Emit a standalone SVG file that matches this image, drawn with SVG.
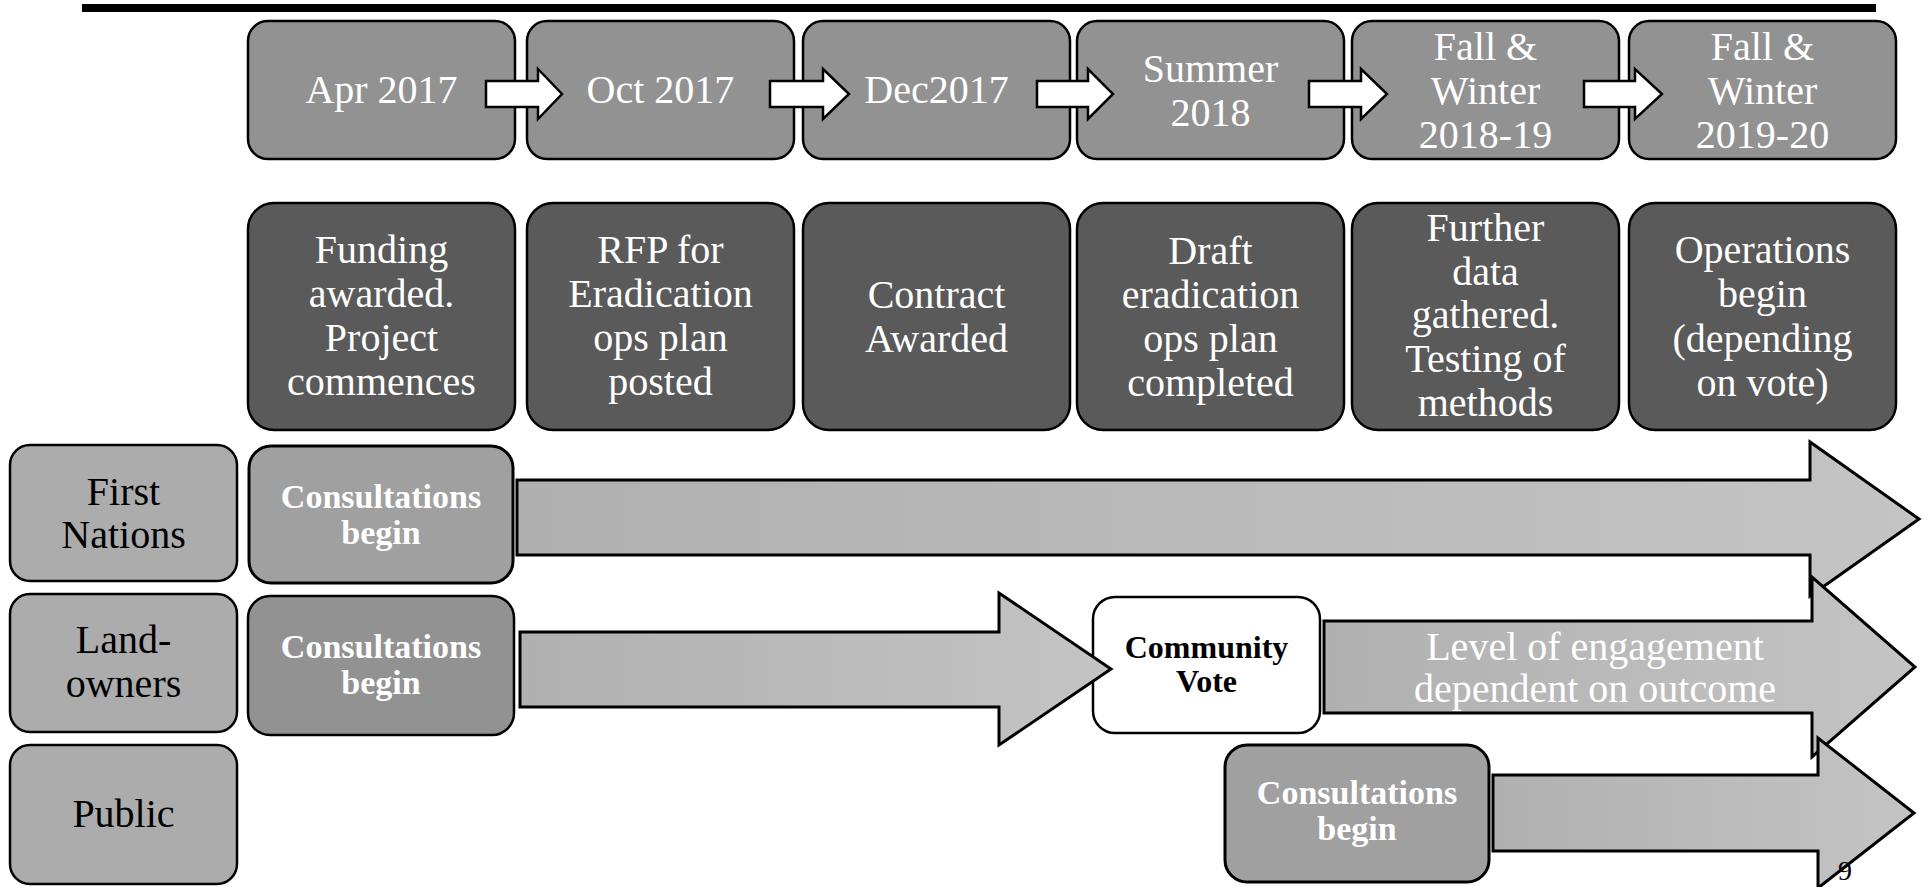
<svg xmlns="http://www.w3.org/2000/svg" width="1930" height="887" viewBox="0 0 1930 887">
<style>
.t1{fill:#929292;stroke:#000;stroke-width:2.5}
.t2{fill:#5a5a5a;stroke:#000;stroke-width:2.5}
.lab{fill:#acacac;stroke:#000;stroke-width:2.5}
.conA{fill:#a0a0a0;stroke:#000;stroke-width:3}
.conB{fill:#929292;stroke:#000;stroke-width:2.5}
.vote{fill:#fff;stroke:#000;stroke-width:2.5}
.wa{fill:#fff;stroke:#000;stroke-width:2.5}
.ba{fill:url(#ag);stroke:#000;stroke-width:3}
.w{font-family:"Liberation Serif","Times New Roman",serif;font-size:40px;fill:#fff;text-anchor:middle}
.k{font-family:"Liberation Serif","Times New Roman",serif;font-size:40px;fill:#000;text-anchor:middle}
.wb{font-family:"Liberation Serif","Times New Roman",serif;font-size:34px;font-weight:bold;fill:#fff;text-anchor:middle}
.kb{font-family:"Liberation Serif","Times New Roman",serif;font-size:32px;font-weight:bold;fill:#000;text-anchor:middle}
</style>
<defs>
<linearGradient id="ag" x1="0" y1="0" x2="1" y2="0">
<stop offset="0" stop-color="#b0b0b0"/>
<stop offset="0.5" stop-color="#bababa"/>
<stop offset="1" stop-color="#c4c4c4"/>
</linearGradient>
</defs>
<rect x="82" y="4" width="1794" height="8" fill="#000"/>

<g id="row1">
<g id="d1"><rect class="t1" x="248" y="21" width="267" height="138" rx="20"/><text class="w" x="381.5" y="103">Apr 2017</text></g>
<g id="d2"><rect class="t1" x="527" y="21" width="267" height="138" rx="20"/><text class="w" x="660.5" y="103">Oct 2017</text></g>
<g id="d3"><rect class="t1" x="803" y="21" width="267" height="138" rx="20"/><text class="w" x="936.5" y="103">Dec2017</text></g>
<g id="d4"><rect class="t1" x="1077" y="21" width="267" height="138" rx="20"/><text class="w" x="1210.5" y="82">Summer</text><text class="w" x="1210.5" y="126">2018</text></g>
<g id="d5"><rect class="t1" x="1352" y="21" width="267" height="138" rx="20"/><text class="w" x="1485.5" y="60">Fall &amp;</text><text class="w" x="1485.5" y="104">Winter</text><text class="w" x="1485.5" y="148">2018-19</text></g>
<g id="d6"><rect class="t1" x="1629" y="21" width="267" height="138" rx="20"/><text class="w" x="1762.5" y="60">Fall &amp;</text><text class="w" x="1762.5" y="104">Winter</text><text class="w" x="1762.5" y="148">2019-20</text></g>
</g>

<g id="row2">
<g id="e1"><rect class="t2" x="248" y="203" width="267" height="227" rx="26"/><text class="w" x="381.5" y="263">Funding</text><text class="w" x="381.5" y="307">awarded.</text><text class="w" x="381.5" y="351">Project</text><text class="w" x="381.5" y="395">commences</text></g>
<g id="e2"><rect class="t2" x="527" y="203" width="267" height="227" rx="26"/><text class="w" x="660.5" y="263">RFP for</text><text class="w" x="660.5" y="307">Eradication</text><text class="w" x="660.5" y="351">ops plan</text><text class="w" x="660.5" y="395">posted</text></g>
<g id="e3"><rect class="t2" x="803" y="203" width="267" height="227" rx="26"/><text class="w" x="936.5" y="308">Contract</text><text class="w" x="936.5" y="352">Awarded</text></g>
<g id="e4"><rect class="t2" x="1077" y="203" width="267" height="227" rx="26"/><text class="w" x="1210.5" y="264">Draft</text><text class="w" x="1210.5" y="308">eradication</text><text class="w" x="1210.5" y="352">ops plan</text><text class="w" x="1210.5" y="396">completed</text></g>
<g id="e5"><rect class="t2" x="1352" y="203" width="267" height="227" rx="26"/><text class="w" x="1485.5" y="241">Further</text><text class="w" x="1485.5" y="285">data</text><text class="w" x="1485.5" y="328">gathered.</text><text class="w" x="1485.5" y="372">Testing of</text><text class="w" x="1485.5" y="416">methods</text></g>
<g id="e6"><rect class="t2" x="1629" y="203" width="267" height="227" rx="26"/><text class="w" x="1762.5" y="263">Operations</text><text class="w" x="1762.5" y="307">begin</text><text class="w" x="1762.5" y="352">(depending</text><text class="w" x="1762.5" y="396">on vote)</text></g>
</g>

<g id="labels">
<g id="firstnations"><rect class="lab" x="10" y="445" width="227" height="136" rx="20"/><text class="k" x="123.5" y="505">First</text><text class="k" x="123.5" y="548">Nations</text></g>
<g id="landowners"><rect class="lab" x="10" y="594" width="227" height="138" rx="20"/><text class="k" x="123.5" y="653">Land-</text><text class="k" x="123.5" y="697">owners</text></g>
<g id="public"><rect class="lab" x="10" y="745" width="227" height="139" rx="20"/><text class="k" x="123.5" y="827">Public</text></g>
</g>

<g id="consult1"><rect class="conA" x="249" y="446" width="264" height="137" rx="22"/><text class="wb" x="381" y="508">Consultations</text><text class="wb" x="381" y="544">begin</text></g>
<g id="consult2"><rect class="conB" x="248" y="596" width="266" height="139" rx="22"/><text class="wb" x="381" y="658">Consultations</text><text class="wb" x="381" y="694">begin</text></g>
<g id="vote"><rect class="vote" x="1093" y="597" width="227" height="136" rx="22"/><text class="kb" x="1206.5" y="658">Community</text><text class="kb" x="1206.5" y="692">Vote</text></g>
<g id="consult3"><rect class="conA" x="1225" y="745" width="264" height="137" rx="22"/><text class="wb" x="1357" y="804">Consultations</text><text class="wb" x="1357" y="840">begin</text></g>

<g id="connectors">
<path class="wa" d="M486,81 H538 V69 L562,94 L538,119 V107 H486 Z"/>
<path class="wa" d="M770,81 H823 V69 L849,94 L823,119 V107 H770 Z"/>
<path class="wa" d="M1037,81 H1088 V69 L1113,94 L1088,119 V107 H1037 Z"/>
<path class="wa" d="M1309,81 H1361 V69 L1387,94 L1361,119 V107 H1309 Z"/>
<path class="wa" d="M1584,81 H1635 V69 L1662,94 L1635,119 V107 H1584 Z"/>
<path class="ba" d="M517,480 H1810 V442 L1919,519 L1810,596 V555 H517 Z"/>
<path class="ba" d="M520,632 H999 V593 L1111,669 L999,745 V707 H520 Z"/>
<path class="ba" d="M1324,621 H1812 V577 L1915,667 L1812,757 V713 H1324 Z"/>
<path class="ba" d="M1493,775 H1818 V738 L1914,813 L1818,888 V851 H1493 Z"/>
<text class="w" x="1595" y="660">Level of engagement</text>
<text class="w" x="1595" y="702">dependent on outcome</text>
</g>
<text x="1845" y="880" font-family="Liberation Serif, serif" font-size="28" fill="#000" text-anchor="middle">9</text>
</svg>
